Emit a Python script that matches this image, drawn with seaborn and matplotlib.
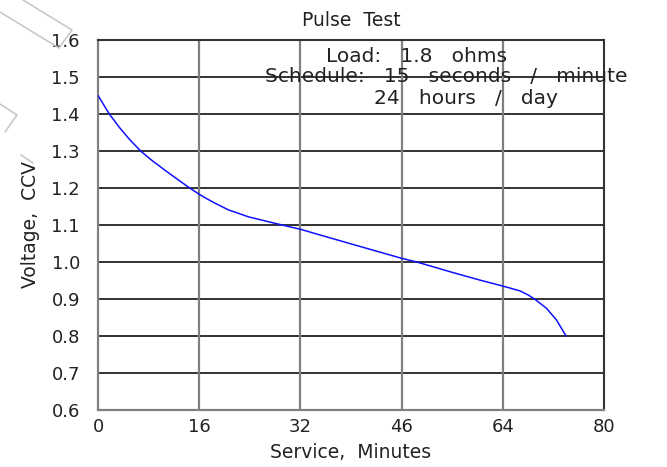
import numpy as np
import pandas as pd
import seaborn as sns
import matplotlib.pyplot as plt
from matplotlib.lines import Line2D

# Data
minutes = [0.0, 1.79, 3.37, 4.95, 6.8, 8.64, 10.75, 12.6, 14.5, 16.0, 17.1,
           18.5, 20.6, 23.8, 26.9, 29.6, 32.1, 34.3, 40.0, 48.0, 50.4, 56.0,
           60.4, 64.0, 66.7, 68.0, 69.1, 70.9, 72.5, 74.0]
volts = [1.450, 1.400, 1.364, 1.332, 1.299, 1.273, 1.246, 1.223, 1.200, 1.183, 1.172,
         1.159, 1.141, 1.122, 1.109, 1.098, 1.088, 1.077, 1.049, 1.010, 1.000, 0.972,
         0.951, 0.935, 0.922, 0.911, 0.899, 0.875, 0.843, 0.800]

x_ticks = [0, 16, 32, 48, 64, 80]
x_tick_labels = ["0", "16", "32", "46", "64", "80"]
y_ticks = [0.6, 0.7, 0.8, 0.9, 1.0, 1.1, 1.2, 1.3, 1.4, 1.5, 1.6]

notes = ["Load:   1.8   ohms", "Schedule:   15   seconds   /   minute", "24   hours   /   day"]

df = pd.DataFrame({"Service": minutes, "Voltage": volts})

sns.set_style("white")
plt.rcParams["font.family"] = ["DejaVu Sans"]

W, H = 667, 467
fig = plt.figure(figsize=(W / 100, H / 100), dpi=100)
ax = fig.add_axes([98 / W, 1 - 410 / H, 506 / W, 370 / H])

sns.lineplot(data=df, x="Service", y="Voltage", ax=ax, color="#1010ff",
             linewidth=1.1, estimator=None, sort=False, zorder=3)

ax.set_xlim(0, 80)
ax.set_ylim(0.6, 1.6)
ax.set_xticks(x_ticks)
ax.set_xticklabels(x_tick_labels)
ax.set_yticks(y_ticks)
ax.set_yticklabels([f"{v:.1f}" for v in y_ticks])

# grid: dark horizontals, grey verticals
for v in y_ticks[1:-1]:
    ax.axhline(v, color="#222222", linewidth=1.3, zorder=1)
for t in x_ticks[1:-1]:
    ax.axvline(t, color="#808080", linewidth=1.6, zorder=1)

for side in ["left", "bottom"]:
    ax.spines[side].set_color("#808080")
    ax.spines[side].set_linewidth(1.6)
for side in ["top", "right"]:
    ax.spines[side].set_color("#333333")
    ax.spines[side].set_linewidth(1.5)

ax.tick_params(axis="both", length=0, labelsize=13, colors="#222222")
ax.tick_params(axis="y", pad=13)
ax.tick_params(axis="x", pad=6)

ax.set_xlabel("Service,  Minutes", fontsize=13.5, color="#222222", labelpad=5)
ax.set_ylabel("Voltage,  CCV", fontsize=13.5, color="#222222", labelpad=8)
ax.set_title("Pulse  Test", fontsize=13.5, color="#222222", pad=10)

note_pos = [(417, 57), (446, 77), (466, 98)]
for txt, (px, py) in zip(notes, note_pos):
    fig.text(px / W, 1 - py / H, txt, fontsize=14.5, ha="center", va="center",
             color="#222222")

# faint outlines in the top-left corner
def px_line(xs, ys):
    fig.add_artist(Line2D([x / W for x in xs], [1 - y / H for y in ys],
                          color="#c8c8c8", linewidth=1.2, transform=fig.transFigure))

px_line([23, 72, 59, 0], [0, 30, 48, 12])
px_line([0, 17, 5], [104, 115, 132])
px_line([21, 33], [155, 163])

fig.savefig("out.png", dpi=100)
